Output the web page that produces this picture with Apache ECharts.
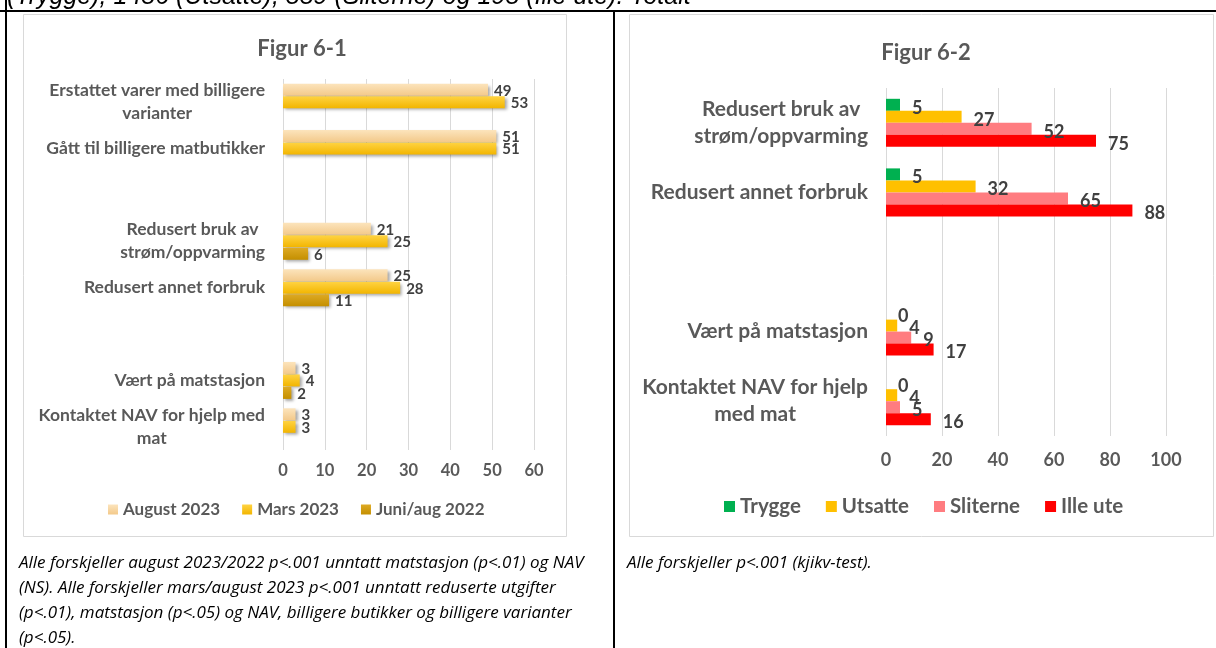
<!DOCTYPE html>
<html>
<head>
<meta charset="utf-8">
<script src="https://cdn.jsdelivr.net/npm/echarts@6/dist/echarts.min.js"></script>
<style>
  html, body { margin: 0; padding: 0; background: #fff; }
  #main { width: 1216px; height: 648px; }
</style>
</head>
<body>
<div id="main"></div>
<script>
// Figur 6-1
var leftCategories = ['Erstattet varer med billigere\nvarianter', 'Gått til billigere matbutikker', '', 'Redusert bruk av\nstrøm/oppvarming', 'Redusert annet forbruk', ' ', 'Vært på matstasjon', 'Kontaktet NAV for hjelp med\nmat']
var august2023 = [49, 51, null, 21, 25, null, 3, 3]
var mars2023 = [53, 51, null, 25, 28, null, 4, 3]
var juniAug2022 = [null, null, null, 6, 11, null, 2, null]
var leftTicks = [0, 10, 20, 30, 40, 50, 60]

// Figur 6-2
var rightCategories = ['Redusert bruk av\nstrøm/oppvarming', 'Redusert annet forbruk', '', 'Vært på matstasjon', 'Kontaktet NAV for hjelp\nmed mat']
var trygge = [5, 5, null, 0, 0]
var utsatte = [27, 32, null, 4, 4]
var sliterne = [52, 65, null, 9, 5]
var illeUte = [75, 88, null, 17, 16]
var rightTicks = [0, 20, 40, 60, 80, 100]

var FONT = 'Lato, "Open Sans", sans-serif'
var GREY = '#595959'

function grad (top, bottom) {
  return new echarts.graphic.LinearGradient(0, 0, 0, 1, [
    { offset: 0, color: top },
    { offset: 1, color: bottom }
  ])
}

// multi-line axis labels: lines centred on each other, block right-aligned
function catLabel (size, lineHeight) {
  return {
    color: GREY,
    fontFamily: FONT,
    fontWeight: 'bold',
    fontSize: size,
    lineHeight: lineHeight,
    margin: 18,
    formatter: function (value) {
      if (value.indexOf('\n') < 0) return value
      return value.split('\n').map(function (l) { return '{c|' + l + '}' }).join('\n')
    },
    rich: {
      c: { align: 'center', color: GREY, fontFamily: FONT, fontWeight: 'bold', fontSize: size, lineHeight: lineHeight }
    }
  }
}

function leftBar (name, data, top, bottom) {
  return {
    name: name,
    type: 'bar',
    xAxisIndex: 0,
    yAxisIndex: 0,
    data: data,
    barWidth: 12,
    barGap: '4%',
    itemStyle: {
      color: grad(top, bottom),
      shadowBlur: 3,
      shadowColor: 'rgba(0,0,0,0.35)',
      shadowOffsetX: 2,
      shadowOffsetY: 2
    },
    label: {
      show: true,
      position: 'right',
      distance: 6,
      offset: [0, 1],
      color: '#404040',
      fontFamily: FONT,
      fontWeight: 'bold',
      fontSize: 15
    }
  }
}

function rightBar (name, data, color) {
  return {
    name: name,
    type: 'bar',
    xAxisIndex: 1,
    yAxisIndex: 1,
    data: data,
    barWidth: 12,
    barGap: '0%',
    itemStyle: { color: color },
    label: {
      show: true,
      position: 'right',
      distance: 12,
      offset: [0, 3],
      color: '#404040',
      fontFamily: FONT,
      fontWeight: 'bold',
      fontSize: 18
    }
  }
}

var myChart = echarts.init(document.getElementById('main'))

var captionStyle = { color: '#000', fontFamily: '"Open Sans", sans-serif', fontStyle: 'italic', fontWeight: 'normal', fontSize: 17, lineHeight: 25 }

var option = {
  backgroundColor: '#fff',
  animation: false,
  title: [
    { text: 'Figur 6-1', left: 297, top: 33, textAlign: 'center', textStyle: { color: GREY, fontFamily: FONT, fontWeight: 'bold', fontSize: 22 } },
    { text: 'Figur 6-2', left: 921, top: 37, textAlign: 'center', textStyle: { color: GREY, fontFamily: FONT, fontWeight: 'bold', fontSize: 22 } },
    {
      text: 'Alle forskjeller august 2023/2022 p<.001 unntatt matstasjon (p<.01) og NAV\n(NS). Alle forskjeller mars/august 2023 p<.001 unntatt reduserte utgifter\n(p<.01), matstasjon (p<.05) og NAV, billigere butikker og billigere varianter\n(p<.05).',
      left: 14,
      top: 546,
      textStyle: captionStyle
    },
    {
      text: 'Alle forskjeller p<.001 (kjikv-test).',
      left: 622,
      top: 546,
      textStyle: captionStyle
    }
  ],
  legend: [
    {
      data: ['August 2023', 'Mars 2023', 'Juni/aug 2022'],
      left: 103,
      top: 496,
      icon: 'rect',
      itemWidth: 10,
      itemHeight: 10,
      itemGap: 22,
      textStyle: { color: GREY, fontFamily: FONT, fontWeight: 'bold', fontSize: 17 }
    },
    {
      data: ['Trygge', 'Utsatte', 'Sliterne', 'Ille ute'],
      left: 719,
      top: 491,
      icon: 'rect',
      itemWidth: 11,
      itemHeight: 11,
      itemGap: 25,
      textStyle: { color: GREY, fontFamily: FONT, fontWeight: 'bold', fontSize: 20.5 }
    }
  ],
  grid: [
    { left: 283, width: 251, top: 79, height: 371 },
    { left: 886, width: 280, top: 88, height: 348 }
  ],
  xAxis: [
    {
      gridIndex: 0,
      type: 'value',
      min: leftTicks[0],
      max: leftTicks[leftTicks.length - 1],
      interval: 10,
      axisLine: { show: false },
      axisTick: { show: false },
      splitLine: { lineStyle: { color: '#d9d9d9' } },
      axisLabel: { color: GREY, fontFamily: FONT, fontWeight: 'bold', fontSize: 16.5, margin: 12 }
    },
    {
      gridIndex: 1,
      type: 'value',
      min: rightTicks[0],
      max: rightTicks[rightTicks.length - 1],
      interval: 20,
      axisLine: { show: false },
      axisTick: { show: false },
      splitLine: { lineStyle: { color: '#d9d9d9' } },
      axisLabel: { color: GREY, fontFamily: FONT, fontWeight: 'bold', fontSize: 18, margin: 15 }
    }
  ],
  yAxis: [
    {
      gridIndex: 0,
      type: 'category',
      inverse: true,
      data: leftCategories,
      axisLine: { show: false },
      axisTick: { show: false },
      axisLabel: catLabel(17.5, 23)
    },
    {
      gridIndex: 1,
      type: 'category',
      inverse: true,
      data: rightCategories,
      axisLine: { show: false },
      axisTick: { show: false },
      axisLabel: catLabel(21, 27)
    }
  ],
  series: [
    leftBar('August 2023', august2023, '#FCE4BC', '#F3C98A'),
    leftBar('Mars 2023', mars2023, '#FFD342', '#F2B500'),
    leftBar('Juni/aug 2022', juniAug2022, '#DEAA24', '#C48F00'),
    rightBar('Trygge', trygge, '#00B050'),
    rightBar('Utsatte', utsatte, '#FFC000'),
    rightBar('Sliterne', sliterne, '#FF7C80'),
    rightBar('Ille ute', illeUte, '#FF0000')
  ],
  graphic: [
    // table borders
    { type: 'rect', shape: { x: 0, y: 10, width: 1216, height: 2 }, style: { fill: '#000' } },
    { type: 'rect', shape: { x: 5, y: 0, width: 2, height: 648 }, style: { fill: '#000' } },
    { type: 'rect', shape: { x: 613, y: 10, width: 2, height: 638 }, style: { fill: '#000' } },
    // chart frames
    { type: 'rect', shape: { x: 23.5, y: 14.5, width: 543, height: 522 }, style: { fill: 'none', stroke: '#d9d9d9', lineWidth: 1 } },
    { type: 'rect', shape: { x: 629.5, y: 14.5, width: 584, height: 522 }, style: { fill: 'none', stroke: '#d9d9d9', lineWidth: 1 } },
    // cut-off text line above the table
    {
      type: 'text',
      x: 7,
      y: 10,
      silent: true,
      style: {
        text: '(Trygge), 1456 (Utsatte), 559 (Sliterne) og 195 (Ille ute). Totalt',
        font: 'italic 25px "Liberation Sans", Arial, sans-serif',
        fill: '#000',
        verticalAlign: 'bottom'
      }
    },
    { type: 'rect', z: 100, shape: { x: 7, y: 9.5, width: 1209, height: 0.5 }, style: { fill: '#fff' } }
  ]
}

myChart.setOption(option)
</script>
</body>
</html>
